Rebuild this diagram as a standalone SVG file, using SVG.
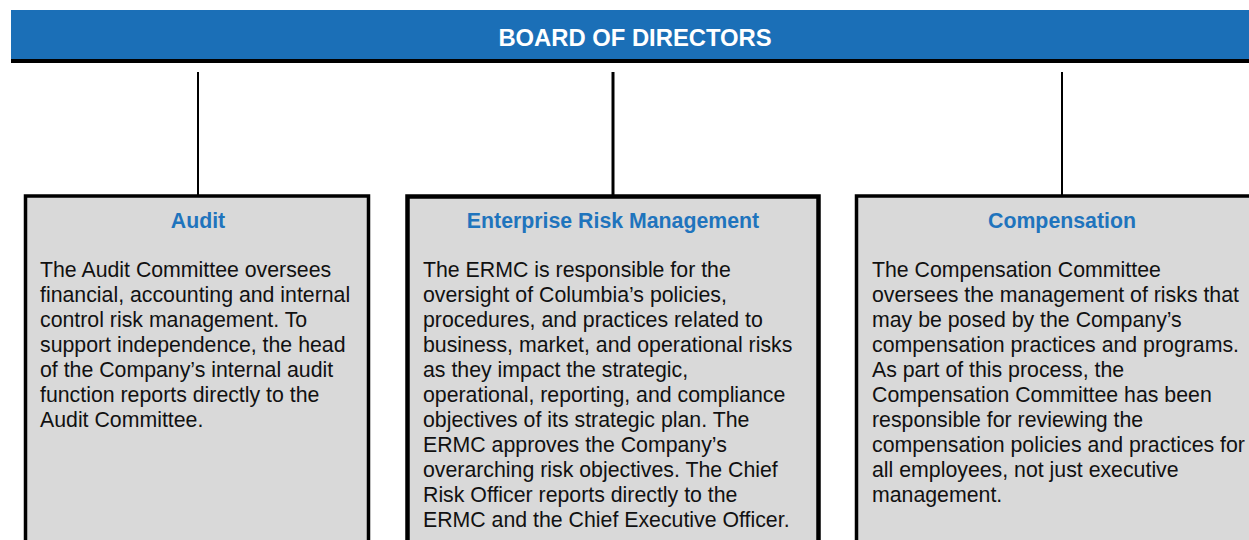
<svg xmlns="http://www.w3.org/2000/svg" width="1249" height="540" viewBox="0 0 1249 540">
  <style>
    .title { font-family: "Liberation Sans", Arial, sans-serif; font-weight: bold; font-size: 21.3px; fill: #1f74bd; text-anchor: middle; }
    .body { font-family: "Liberation Sans", Arial, sans-serif; font-size: 21.3px; fill: #111111; }
    .box { fill: #d9d9d9; stroke: #000000; }
    .link { stroke: #000000; fill: none; }
  </style>
  <rect x="0" y="0" width="1249" height="540" fill="#ffffff"/>

  <!-- Board header bar -->
  <g id="board">
    <rect x="11" y="10" width="1238" height="49" fill="#1b6fb7"/>
    <rect x="11" y="59" width="1238" height="4" fill="#000000"/>
    <text x="635" y="46" font-family="Liberation Sans, Arial, sans-serif" font-weight="bold" font-size="23.8" fill="#ffffff" text-anchor="middle">BOARD OF DIRECTORS</text>
  </g>

  <!-- Reporting lines from the board to each committee -->
  <g id="connectors">
    <line class="link" x1="198" y1="72" x2="198" y2="196" stroke-width="2"/>
    <line class="link" x1="613" y1="72" x2="613" y2="196" stroke-width="3"/>
    <line class="link" x1="1062" y1="72" x2="1062" y2="196" stroke-width="2"/>
  </g>

  <!-- Audit committee -->
  <g id="audit">
    <rect class="box" x="25.5" y="196" width="343" height="360" stroke-width="3.5"/>
    <text class="title" x="198" y="228">Audit</text>
    <text class="body" x="40" y="277">
      <tspan x="40" dy="0">The Audit Committee oversees</tspan>
      <tspan x="40" dy="25">financial, accounting and internal</tspan>
      <tspan x="40" dy="25">control risk management. To</tspan>
      <tspan x="40" dy="25">support independence, the head</tspan>
      <tspan x="40" dy="25">of the Company’s internal audit</tspan>
      <tspan x="40" dy="25">function reports directly to the</tspan>
      <tspan x="40" dy="25">Audit Committee.</tspan>
    </text>
  </g>

  <!-- Enterprise risk management committee -->
  <g id="ermc">
    <rect class="box" x="407.5" y="196.5" width="411" height="360" stroke-width="4.5"/>
    <text class="title" x="613" y="228">Enterprise Risk Management</text>
    <text class="body" x="423" y="277">
      <tspan x="423" dy="0">The ERMC is responsible for the</tspan>
      <tspan x="423" dy="25">oversight of Columbia’s policies,</tspan>
      <tspan x="423" dy="25">procedures, and practices related to</tspan>
      <tspan x="423" dy="25">business, market, and operational risks</tspan>
      <tspan x="423" dy="25">as they impact the strategic,</tspan>
      <tspan x="423" dy="25">operational, reporting, and compliance</tspan>
      <tspan x="423" dy="25">objectives of its strategic plan. The</tspan>
      <tspan x="423" dy="25">ERMC approves the Company’s</tspan>
      <tspan x="423" dy="25">overarching risk objectives. The Chief</tspan>
      <tspan x="423" dy="25">Risk Officer reports directly to the</tspan>
      <tspan x="423" dy="25">ERMC and the Chief Executive Officer.</tspan>
    </text>
  </g>

  <!-- Compensation committee -->
  <g id="compensation">
    <rect class="box" x="856.5" y="196" width="420" height="360" stroke-width="3.5"/>
    <text class="title" x="1062" y="228">Compensation</text>
    <text class="body" x="872" y="277">
      <tspan x="872" dy="0">The Compensation Committee</tspan>
      <tspan x="872" dy="25">oversees the management of risks that</tspan>
      <tspan x="872" dy="25">may be posed by the Company’s</tspan>
      <tspan x="872" dy="25">compensation practices and programs.</tspan>
      <tspan x="872" dy="25">As part of this process, the</tspan>
      <tspan x="872" dy="25">Compensation Committee has been</tspan>
      <tspan x="872" dy="25">responsible for reviewing the</tspan>
      <tspan x="872" dy="25">compensation policies and practices for</tspan>
      <tspan x="872" dy="25">all employees, not just executive</tspan>
      <tspan x="872" dy="25">management.</tspan>
    </text>
  </g>
</svg>
